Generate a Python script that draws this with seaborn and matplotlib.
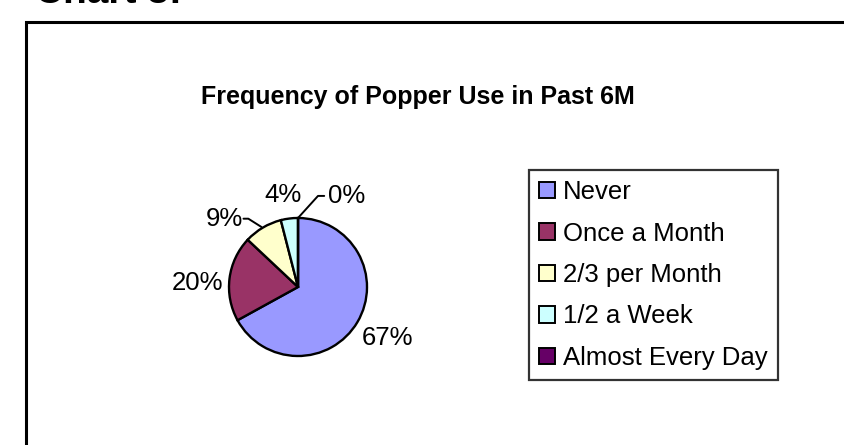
import matplotlib
matplotlib.use('Agg')
import matplotlib.pyplot as plt
import seaborn as sns
import numpy as np
from matplotlib.patches import Rectangle, Patch

sns.set_theme(style="white")
plt.rcParams['font.family'] = ['Liberation Sans', 'DejaVu Sans']
plt.rcParams['text.color'] = 'black'

# data
categories = ["Never", "Once a Month", "2/3 per Month", "1/2 a Week", "Almost Every Day"]
percents = [67, 20, 9, 4, 0]
colors = ["#9999FF", "#993366", "#FFFFCC", "#CCFFFF", "#660066"]
pct_labels = ["67%", "20%", "9%", "4%", "0%"]

W, H = 845, 445
fig = plt.figure(figsize=(W / 100, H / 100), dpi=100)
fig.patch.set_facecolor("white")

# cut off page heading above the chart
fig.text(35 / W, 1 - 3 / H, "Chart 3:", fontsize=28, fontweight="bold",
         ha="left", va="baseline")

# chart area frame (runs off the right and bottom edges)
fig.patches.append(Rectangle((26 / W, -0.1), 1.2, 1 - 22 / H + 0.1,
                             transform=fig.transFigure, fill=False,
                             edgecolor="black", linewidth=2.2))

fig.text(418 / W, 1 - 97 / H, "Frequency of Popper Use in Past 6M",
         fontsize=18, fontweight="bold", ha="center", va="center")

# pie: centre (298, 287) px, radius 69 px
cx, cy, r = 298, 287, 69
ax = fig.add_axes([(cx - r) / W, (H - cy - r) / H, 2 * r / W, 2 * r / H])
wedges, _ = ax.pie(percents, colors=colors, startangle=90, counterclock=False,
                   radius=1, wedgeprops=dict(edgecolor="black", linewidth=1.7))
ax.set_xlim(-1, 1)
ax.set_ylim(-1, 1)
ax.set_aspect("equal")
ax.axis("off")

label_pos = [(1.30, -0.74), (-1.46, 0.06), (-1.07, 0.99), (-0.22, 1.33), (0.43, 1.32)]
label_ha = ["center", "center", "center", "center", "left"]
for txt, (lx, ly), ha in zip(pct_labels, label_pos, label_ha):
    ax.text(lx, ly, txt, fontsize=18.5, ha=ha, va="center", clip_on=False)

# leader lines
ax.plot([-0.79, -0.72, -0.53], [0.99, 0.99, 0.87], color="black", lw=1.4, clip_on=False)
ax.plot([0.0, 0.29, 0.38], [1.0, 1.32, 1.32], color="black", lw=1.4, clip_on=False)

handles = [Patch(facecolor=c, edgecolor="black", linewidth=1.4) for c in colors]
leg = fig.legend(handles, categories, loc="center",
                 bbox_to_anchor=(653.5 / W, 1 - 275 / H), fontsize=18.5,
                 frameon=True, fancybox=False, handlelength=0.62, handleheight=0.62,
                 handletextpad=0.3, labelspacing=0.68, borderpad=0.4,
                 borderaxespad=0)
leg.get_frame().set_edgecolor("black")
leg.get_frame().set_linewidth(1.6)

fig.savefig("out.png", dpi=100, facecolor="white")
